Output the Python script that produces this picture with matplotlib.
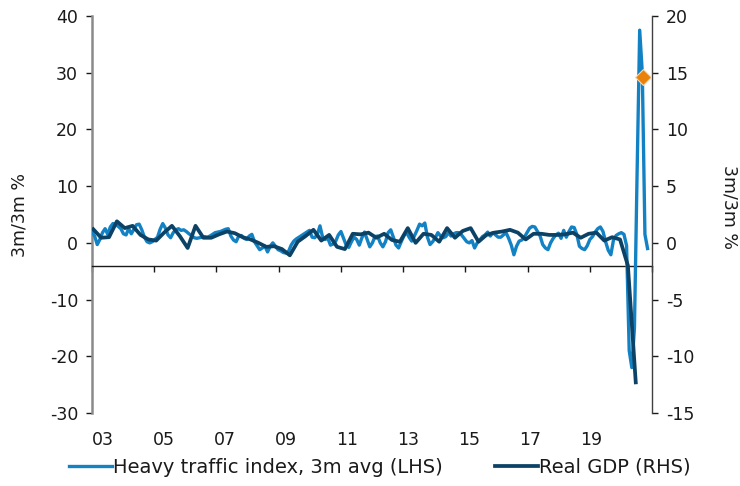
import matplotlib
matplotlib.use("Agg")
import matplotlib.pyplot as plt
import matplotlib.transforms as mtransforms
import numpy as np

# Heavy traffic index, 3m avg (LHS), monthly from Jan 2003 to Sep 2020
traffic = [
    1.9, 1.2, -0.3, 0.6, 1.8, 2.5, 1.5, 2.8, 3.4, 3.3, 2.9, 2.5,
    1.6, 1.4, 2.5, 1.6, 2.4, 3.2, 3.3, 2.3, 1.0, 0.2, 0.0, 0.2,
    0.6, 1.0, 2.4, 3.4, 2.6, 1.4, 0.9, 1.8, 2.3, 2.5, 2.2, 2.3,
    2.0, 1.6, 1.3, 0.9, 0.8, 0.9, 1.0, 1.1, 1.0, 1.2, 1.5, 1.8,
    1.9, 2.0, 2.2, 2.4, 2.5, 1.2, 0.5, 0.2, 1.2, 1.3, 0.8, 0.6,
    1.2, 1.5, 0.2, -0.5, -1.2, -0.9, -0.6, -1.6, -0.6, 0.0, -0.6, -1.2,
    -1.4, -1.7, -1.8, -1.5, -0.4, 0.3, 0.7, 1.0, 1.3, 1.6, 1.9, 2.2,
    1.0, 0.9, 1.5, 3.0, 1.0, 0.6, 0.8, -0.4, -0.2, 0.3, 1.4, 2.0,
    0.8, -0.4, -0.8, 0.2, 1.0, 0.6, -0.4, 0.9, 1.9, 0.6, -0.7, 0.0,
    1.1, 1.2, 0.0, -0.7, 0.2, 1.8, 2.3, 1.0, -0.4, -0.9, 0.2, 1.2,
    1.9, 1.0, 0.3, 1.2, 2.2, 3.3, 3.0, 3.5, 1.0, -0.3, 0.2, 0.9,
    1.8, 1.2, 0.9, 1.1, 1.8, 1.2, 1.6, 1.8, 1.8, 1.4, 0.8, 0.2,
    0.0, 0.4, -0.9, 0.0, 0.5, 1.1, 1.4, 1.9, 1.2, 1.8, 1.4, 1.0,
    1.0, 1.4, 1.8, 0.8, -0.4, -2.1, -0.6, 0.3, 0.5, 1.0, 1.8, 2.6,
    2.9, 2.8, 2.0, 1.2, -0.3, -0.9, -1.2, 0.0, 0.8, 1.4, 1.7, 0.8,
    2.2, 1.0, 2.0, 2.8, 2.7, 1.5, -0.6, -1.0, -1.2, -0.5, 0.6, 1.1,
    1.9, 2.5, 2.8, 2.0, 0.2, -1.3, -2.1, 0.5, 1.3, 1.6, 1.8, 1.5,
    -0.5, -19.0, -22.0, -15.0, 12.0, 37.5, 30.0, 1.5, -1.0,
]

# Real GDP q/q % (RHS), quarterly Q1 2003 to Q2 2020
gdp = [
    1.2, 0.45, 0.5, 1.9, 1.3, 1.5, 0.7, 0.3, 0.2, 0.9,
    1.5, 0.6, -0.45, 1.5, 0.45, 0.45, 0.75, 1.0, 0.85, 0.5,
    0.3, 0.0, -0.35, -0.3, -0.55, -1.1, 0.1, 0.6, 1.15, 0.2,
    0.7, -0.35, -0.55, 0.8, 0.75, 0.9, 0.45, 0.8, 0.25, 0.1,
    1.3, 0.0, 0.8, 0.7, 0.1, 1.3, 0.45, 1.05, 1.3, 0.1,
    0.7, 0.9, 1.0, 1.15, 0.9, 0.3, 0.8, 0.8, 0.7, 0.7,
    0.75, 0.9, 0.45, 0.8, 0.9, 0.2, 0.5, 0.3, -2.0, -12.3,
]

# Q3 2020 GDP marker (RHS)
gdp_q3_2020 = 14.6

xtick_labels = ["03", "05", "07", "09", "11", "13", "15", "17", "19"]
left_ticks = [-30, -20, -10, 0, 10, 20, 30, 40]
right_ticks = [-15, -10, -5, 0, 5, 10, 15, 20]

light = "#1282C4"
dark = "#0B4265"
txt = "#1a1a1a"

plt.rcParams["font.family"] = ["DejaVu Sans"]
plt.rcParams["axes.unicode_minus"] = False

fig = plt.figure(figsize=(7.4, 4.86), dpi=100)
ax = fig.add_axes([92 / 740, 1 - 413 / 486, 560 / 740, 397 / 486])
ax2 = ax.twinx()

x_traffic = np.arange(len(traffic))
x_gdp = np.arange(len(gdp)) * 3 + 0.5
x_max = 213.7

ax.plot(x_traffic, traffic, color=light, lw=2.4, solid_joinstyle="round",
        label="Heavy traffic index, 3m avg (LHS)", zorder=3)
ax2.plot(x_gdp, gdp, color=dark, lw=2.7, solid_joinstyle="round",
         label="Real GDP (RHS)", zorder=3)
ax2.plot([len(gdp) * 3 + 0.2], [gdp_q3_2020], marker="D", ms=8,
         color="#E8820C", mec="#F8D9B0", mew=0.8, zorder=5, clip_on=False)

ax.set_xlim(0, x_max)
ax.set_ylim(-30, 40)
ax2.set_ylim(-15, 20)

ax.set_yticks(left_ticks)
ax2.set_yticks(right_ticks)
ax.tick_params(axis="y", labelsize=12.5, length=4, width=1, colors=txt, pad=6)
ax2.tick_params(axis="y", labelsize=12.5, length=4, width=1, colors=txt, pad=6)

ax.spines["top"].set_visible(False)
ax2.spines["top"].set_visible(False)
ax.spines["right"].set_visible(False)
ax2.spines["left"].set_visible(False)
ax2.spines["bottom"].set_visible(False)
ax.spines["left"].set_color("#8a8a8a")
ax.spines["left"].set_linewidth(1.8)
ax2.spines["right"].set_color("#404040")
ax2.spines["right"].set_linewidth(1.0)
ax.spines["bottom"].set_position(("data", -4))
ax.spines["bottom"].set_color(txt)
ax.spines["bottom"].set_linewidth(1.0)

xt = np.linspace(0, x_max, 10)
ax.set_xticks(xt)
ax.set_xticklabels([])
ax.tick_params(axis="x", length=4, width=1, colors=txt, direction="out")

# category labels as drawn by the source chart (evenly spaced, offset from ticks)
label_pos = 4.2 + 23.28 * np.arange(len(xtick_labels))
trans = mtransforms.blended_transform_factory(ax.transData, fig.transFigure)
for pos, lab in zip(label_pos, xtick_labels):
    ax.text(pos, 1 - 440 / 486, lab, transform=trans, ha="center", va="center",
            fontsize=12.5, color=txt)

ax.set_ylabel("3m/3m %", fontsize=12.5, color=txt)
ax.yaxis.set_label_coords(-0.113, 0.5)
ax2.set_ylabel("3m/3m %", fontsize=12.5, color=txt, rotation=-90)
ax2.yaxis.set_label_coords(1.155, 0.52)

h1, l1 = ax.get_legend_handles_labels()
h2, l2 = ax2.get_legend_handles_labels()
leg = fig.legend(h1 + h2[:1], l1 + l2[:1], loc="center",
                 bbox_to_anchor=(0.513, 1 - 467 / 486), ncol=2, frameon=False,
                 fontsize=14, handlelength=2.2, handletextpad=0.05,
                 columnspacing=2.7)
for t in leg.get_texts():
    t.set_color(txt)

fig.savefig("out.png", dpi=100)
